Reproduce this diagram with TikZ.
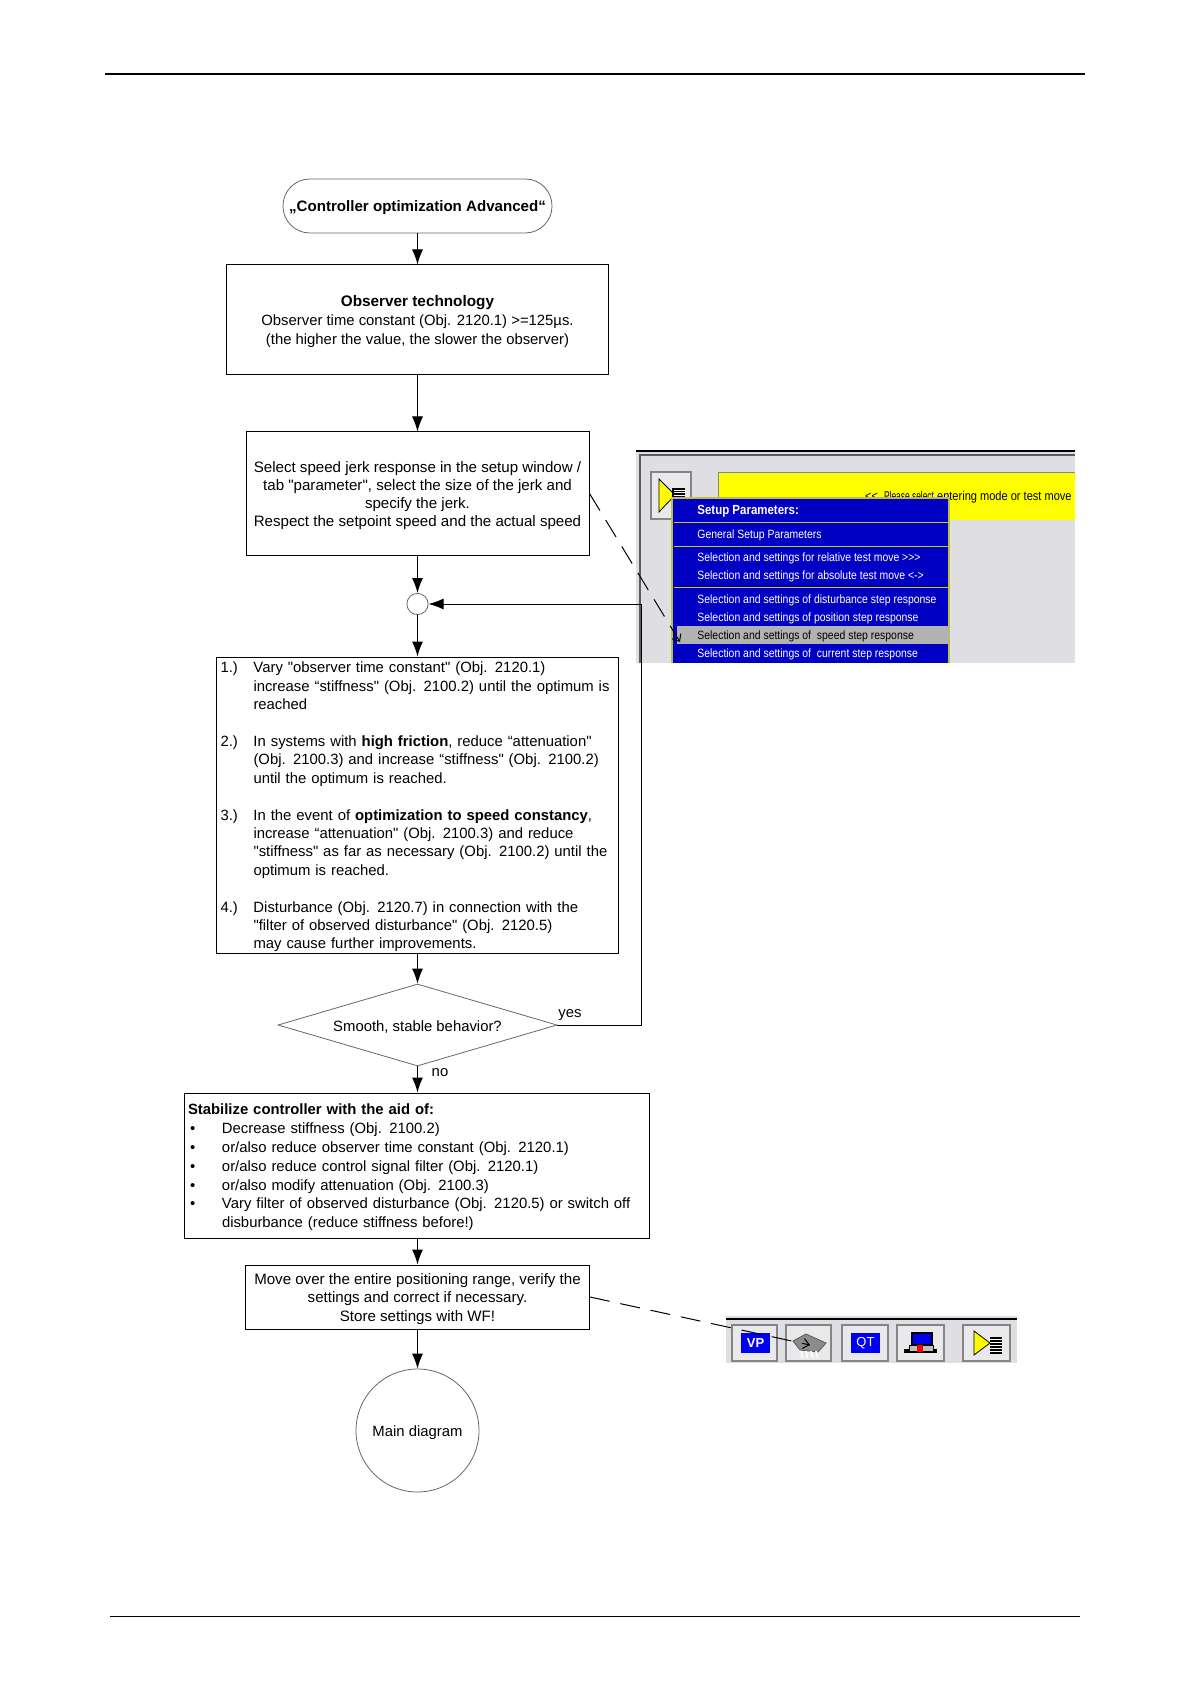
\documentclass[tikz,border=0pt]{standalone}
\usepackage{fontspec}
\defaultfontfeatures[\rmfamily]{}
\setmainfont{Liberation Sans}
\newfontfamily\menufont[FakeStretch=0.87]{Liberation Sans}
\usetikzlibrary{arrows.meta,shapes.geometric}
\definecolor{wingray}{HTML}{DFDFE3}
\definecolor{winedge}{HTML}{858585}
\definecolor{winblue}{HTML}{0000C4}
\definecolor{iconblue}{HTML}{0000F0}
\definecolor{winyellow}{HTML}{FFFF00}
\tikzset{
  box/.style={draw=black,line width=.5pt,inner sep=0pt,align=center,font=\fontsize{7.43}{9.2}\selectfont},
  listbox/.style={box,align=left,inner xsep=2pt},
  thinshape/.style={draw=black!60,line width=.4pt,inner sep=0pt,align=center,font=\fontsize{7.43}{9.2}\selectfont},
  tag/.style={inner sep=0pt,font=\fontsize{7.43}{9.2}\selectfont},
  flow/.style={line width=.5pt,-{Latex[length=7.5pt,width=5.5pt]}},
  hint/.style={line width=.5pt,dash pattern=on 10pt off 5.5pt,-{Straight Barb[length=3pt,width=5pt]}},
  menuitem/.style={anchor=west,inner sep=0pt,text=white,font=\menufont\fontsize{6}{7}\selectfont},
  btn/.style={draw=winedge,line width=.9pt,fill=wingray!70!white},
}
\newcommand{\lift}{\rule{0pt}{7.4pt}}
\newcommand{\lrow}[2][]{\makebox[16.5pt][l]{#1}#2}
\newcommand{\brow}[1]{\makebox[17pt][l]{\hspace{1pt}\textbullet}#1}
\begin{document}
\begin{tikzpicture}[x=.5pt,y=-.5pt]
    \useasboundingbox (0,0) rectangle (1190,1684);
    %Page rules
    \draw[line width=1pt] (105,74)--(1085,74);
    \draw[line width=.5pt] (110,1616)--(1080,1616);

    %Setup window
    \fill[wingray] (636,450) rectangle (1075,663);
    \draw[line width=.7pt] (636,451)--(1075,451);
    \draw[winedge!70!black,line width=.6pt] (640,663)--(640,455)--(1075,455);
    \draw[btn] (651,472) rectangle (691,519);
    \draw[fill=winyellow,line width=.4pt] (659,479)--(659,512)--(675,495)--cycle;
    \fill[black] (672,488) rectangle (685,498);
    \foreach \ly in {490,492.5,495} {
      \draw[white,line width=.5pt] (674,\ly)--(685,\ly);
    }
    \fill[winyellow] (718,472) rectangle (1075,520);
    \draw[winedge,line width=.5pt] (718,520)--(718,472)--(1075,472);
    \node[anchor=east,inner sep=0pt,font=\menufont\fontsize{6.35}{8}\selectfont] (hinttext) at (1072,497) {<<\ \ \scalebox{.76}[1]{Please select} entering mode or test move};
    \fill[winblue] (672,498) rectangle (949,663);
    \draw[winyellow!50!gray,line width=.8pt] (672,663)--(672,498)--(949,498)--(949,663);
    \fill[black!30,fill opacity=1] (677,626) rectangle (949,644);
    \draw[winyellow!80!black,line width=.5pt] (674,522)--(949,522);
    \draw[winyellow!80!black,line width=.5pt] (674,546)--(949,546);
    \draw[winyellow!80!black,line width=.5pt] (674,587)--(949,587);
    \node[menuitem,font=\menufont\bfseries\fontsize{6.6}{8}\selectfont] (m0) at (697,511) {Setup Parameters:};
    \node[menuitem] (m1) at (697,535) {General Setup Parameters};
    \node[menuitem] (m2) at (697,558) {Selection and settings for relative test move >>>};
    \node[menuitem] (m3) at (697,576) {Selection and settings for absolute test move <->};
    \node[menuitem] (m4) at (697,600) {Selection and settings of disturbance step response};
    \node[menuitem] (m5) at (697,618) {Selection and settings of position step response};
    \node[menuitem,text=black] (m6) at (697,636) {Selection and settings of\ \ speed step response};
    \node[menuitem] (m7) at (697,654) {Selection and settings of\ \ current step response};

    %Toolbar
    \fill[wingray] (726,1316) rectangle (1017,1363);
    \draw[line width=.6pt] (726,1319)--(1017,1319);
    \draw[btn] (732,1325) rectangle (777,1361);
    \draw[btn] (786,1325) rectangle (831,1361);
    \draw[btn] (842,1325) rectangle (888,1361);
    \draw[btn] (897,1325) rectangle (944,1361);
    \draw[btn] (963,1325) rectangle (1010,1361);
    \node[fill=iconblue,text=white,minimum width=14.5pt,minimum height=10pt,inner sep=0pt,font=\bfseries\fontsize{6.5}{7}\selectfont] (vp) at (755.5,1343) {VP};
    \node[fill=iconblue,text=white,minimum width=14.5pt,minimum height=10pt,inner sep=0pt,font=\fontsize{6.5}{7}\selectfont] (qt) at (865.5,1343) {QT};
    %chip
    \draw[fill=black!45,draw=black!65,line width=.4pt] (793,1341)--(806,1334)--(826,1343)--(818,1352)--(800,1350)--cycle;
    \foreach \px in {801,806,811,816} {
      \draw[white,line width=.8pt] (\px,1351)--(\px+1.5,1358);
    }
    %computer
    \fill[black] (904,1349) rectangle (937,1353);
    \draw[fill=black!25,line width=.4pt] (909,1345) rectangle (933,1351);
    \draw[fill=iconblue,line width=.8pt] (912,1333) rectangle (932,1345);
    \fill[red] (917,1345) rectangle (923,1352);
    %setup icon
    \fill[black] (990,1337) rectangle (1002,1354);
    \foreach \ly in {1339.5,1342.5,1345.5,1348.5,1351.5} {
      \draw[white,line width=.5pt] (990,\ly)--(1002,\ly);
    }
    \draw[fill=winyellow,line width=.4pt] (974,1331)--(974,1355)--(990,1343)--cycle;

    %Flowchart
    \node[thinshape,rounded corners=13.4pt,minimum width=134.5pt,minimum height=27pt,font=\bfseries\fontsize{7.55}{9.2}\selectfont] (start) at (417.5,206) {\lift„Controller optimization Advanced“};
    \node[box,minimum width=191pt,minimum height=55pt,font=\fontsize{7.43}{9.5}\selectfont] (observer) at (417.5,320) {\lift{\fontsize{7.65}{9.5}\selectfont\bfseries Observer technology}\\Observer time constant (Obj. 2120.1) >=125µs.\\(the higher the value, the slower the observer)};
    \node[box,minimum width=171.5pt,minimum height=61.5pt,font=\fontsize{7.55}{9}\selectfont] (select) at (417.5,493.5) {\lift Select speed jerk response in the setup window /\\tab "parameter", select the size of the jerk and\\specify the jerk.\\Respect the setpoint speed and the actual speed};
    \node[thinshape,circle,minimum size=10.6pt] (junction) at (417.5,604) {};
    \node[listbox,text width=197pt,minimum height=148pt] (vary) at (417.5,805) {\lift\lrow[1.)]{Vary "observer time constant" (Obj. 2120.1)}\\
      \lrow{increase “stiffness" (Obj. 2100.2) until the optimum is}\\
      \lrow{reached}\\[9.2pt]
      \lrow[2.)]{In systems with \textbf{high friction}, reduce “attenuation"}\\
      \lrow{(Obj. 2100.3) and increase “stiffness" (Obj. 2100.2)}\\
      \lrow{until the optimum is reached.}\\[9.2pt]
      \lrow[3.)]{In the event of \textbf{optimization to speed constancy},}\\
      \lrow{increase “attenuation" (Obj. 2100.3) and reduce}\\
      \lrow{"stiffness" as far as necessary (Obj. 2100.2) until the}\\
      \lrow{optimum is reached.}\\[9.2pt]
      \lrow[4.)]{Disturbance (Obj. 2120.7) in connection with the}\\
      \lrow{"filter of observed disturbance" (Obj. 2120.5)}\\
      \lrow{may cause further improvements.}};
    \node[thinshape,diamond,aspect=3.4,minimum width=139.5pt,minimum height=41pt] (smooth) at (417.5,1025) {\lift Smooth, stable behavior?};
    \node[listbox,text width=228.5pt,minimum height=72.5pt,font=\fontsize{7.43}{9.4}\selectfont] (stabilize) at (416.5,1165.5) {\lift\textbf{Stabilize controller with the aid of:}\\
      \brow{Decrease stiffness (Obj. 2100.2)}\\
      \brow{or/also reduce observer time constant (Obj. 2120.1)}\\
      \brow{or/also reduce control signal filter (Obj. 2120.1)}\\
      \brow{or/also modify attenuation (Obj. 2100.3)}\\
      \brow{Vary filter of observed disturbance (Obj. 2120.5) or switch off}\\
      \makebox[17pt]{}disburbance (reduce stiffness before!)};
    \node[box,minimum width=172pt,minimum height=32pt,font=\fontsize{7.55}{9.2}\selectfont] (move) at (417.5,1297) {\lift Move over the entire positioning range, verify the\\settings and correct if necessary.\\Store settings with WF!};
    \node[thinshape,circle,minimum size=61.5pt] (main) at (417.5,1430.5) {\lift Main diagram};
    \node[tag] (yes) at (570,1015) {yes};
    \node[tag] (no) at (440,1073) {no};

    %Connectors
    \coordinate (back) at (641.7,604);
    \coordinate (menutip) at (680,642);
    \coordinate (chiptip) at (810,1345);
    \draw[flow] (start)--(observer);
    \draw[flow] (observer)--(select);
    \draw[flow] (select)--(junction);
    \draw[flow] (junction)--(vary);
    \draw[flow] (vary)--(smooth);
    \draw[flow] (smooth)--(stabilize.north -| smooth);
    \draw[flow] (stabilize.south -| move)--(move);
    \draw[flow] (move)--(main);
    \draw[flow] (smooth.east)-|(back)--(junction);
    \draw[hint] (select.east)--(menutip);
    \draw[hint] (move.east)--(chiptip);
\end{tikzpicture}
\end{document}
